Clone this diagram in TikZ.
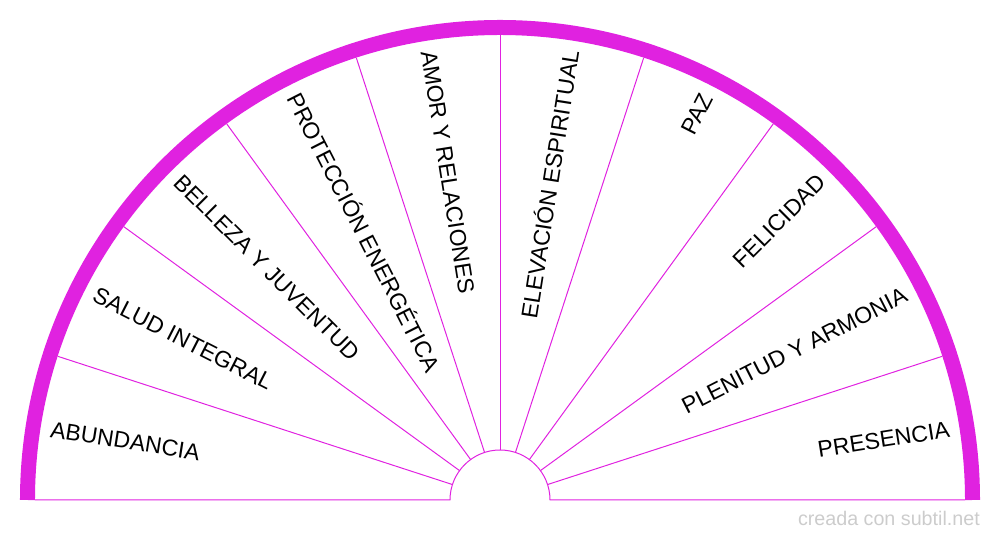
\documentclass[tikz,border=0pt]{standalone}
\usepackage{fontspec}
\setmainfont{Liberation Sans}
\definecolor{fanMagenta}{RGB}{224,34,224}
\definecolor{markGray}{RGB}{204,204,204}
\begin{document}
\begin{tikzpicture}[x=1pt, y=1pt,
    lineStyle/.style={draw=fanMagenta, line width=1pt},
    labelStyle/.style={font=\fontsize{23}{27}\selectfont, inner sep=0pt, text height=16.5pt, text depth=0pt}]
    \useasboundingbox (-500,-40) rectangle (500,500);

    % Rim
    \draw[fanMagenta, line width=15pt] (-472.5,0) arc (180:0:472.5);

    % Base and hub
    \draw[lineStyle] (-465,0) -- (-50,0) arc (180:0:50) -- (465,0);

    % Spokes
    \foreach \a in {18,36,...,162}
        \draw[lineStyle] (\a:50) -- (\a:465);

    % Left half
    \node[labelStyle, anchor=west, rotate=-9]  (abundancia) at (171:455) {ABUNDANCIA};
    \node[labelStyle, anchor=west, rotate=-27] (salud)      at (153:455) {SALUD INTEGRAL};
    \node[labelStyle, anchor=west, rotate=-45] (belleza)    at (135:455) {BELLEZA Y JUVENTUD};
    \node[labelStyle, anchor=west, rotate=-63] (proteccion) at (117:455) {PROTECCIÓN ENERGÉTICA};
    \node[labelStyle, anchor=west, rotate=-81] (amor)       at ( 99:455) {AMOR Y RELACIONES};

    % Right half
    \node[labelStyle, anchor=east, rotate=81] (elevacion) at (81:455) {ELEVACIÓN ESPIRITUAL};
    \node[labelStyle, anchor=east, rotate=63] (paz)       at (63:455) {PAZ};
    \node[labelStyle, anchor=east, rotate=45] (felicidad) at (45:455) {FELICIDAD};
    \node[labelStyle, anchor=east, rotate=27] (plenitud)  at (27:455) {PLENITUD Y ARMONIA};
    \node[labelStyle, anchor=east, rotate=9]  (presencia) at ( 9:455) {PRESENCIA};

    % Credit
    \node[anchor=base east, inner sep=0pt, text=markGray, font=\fontsize{19.7}{23}\selectfont] (credit) at (480,-26) {creada con subtil.net};
\end{tikzpicture}
\end{document}
